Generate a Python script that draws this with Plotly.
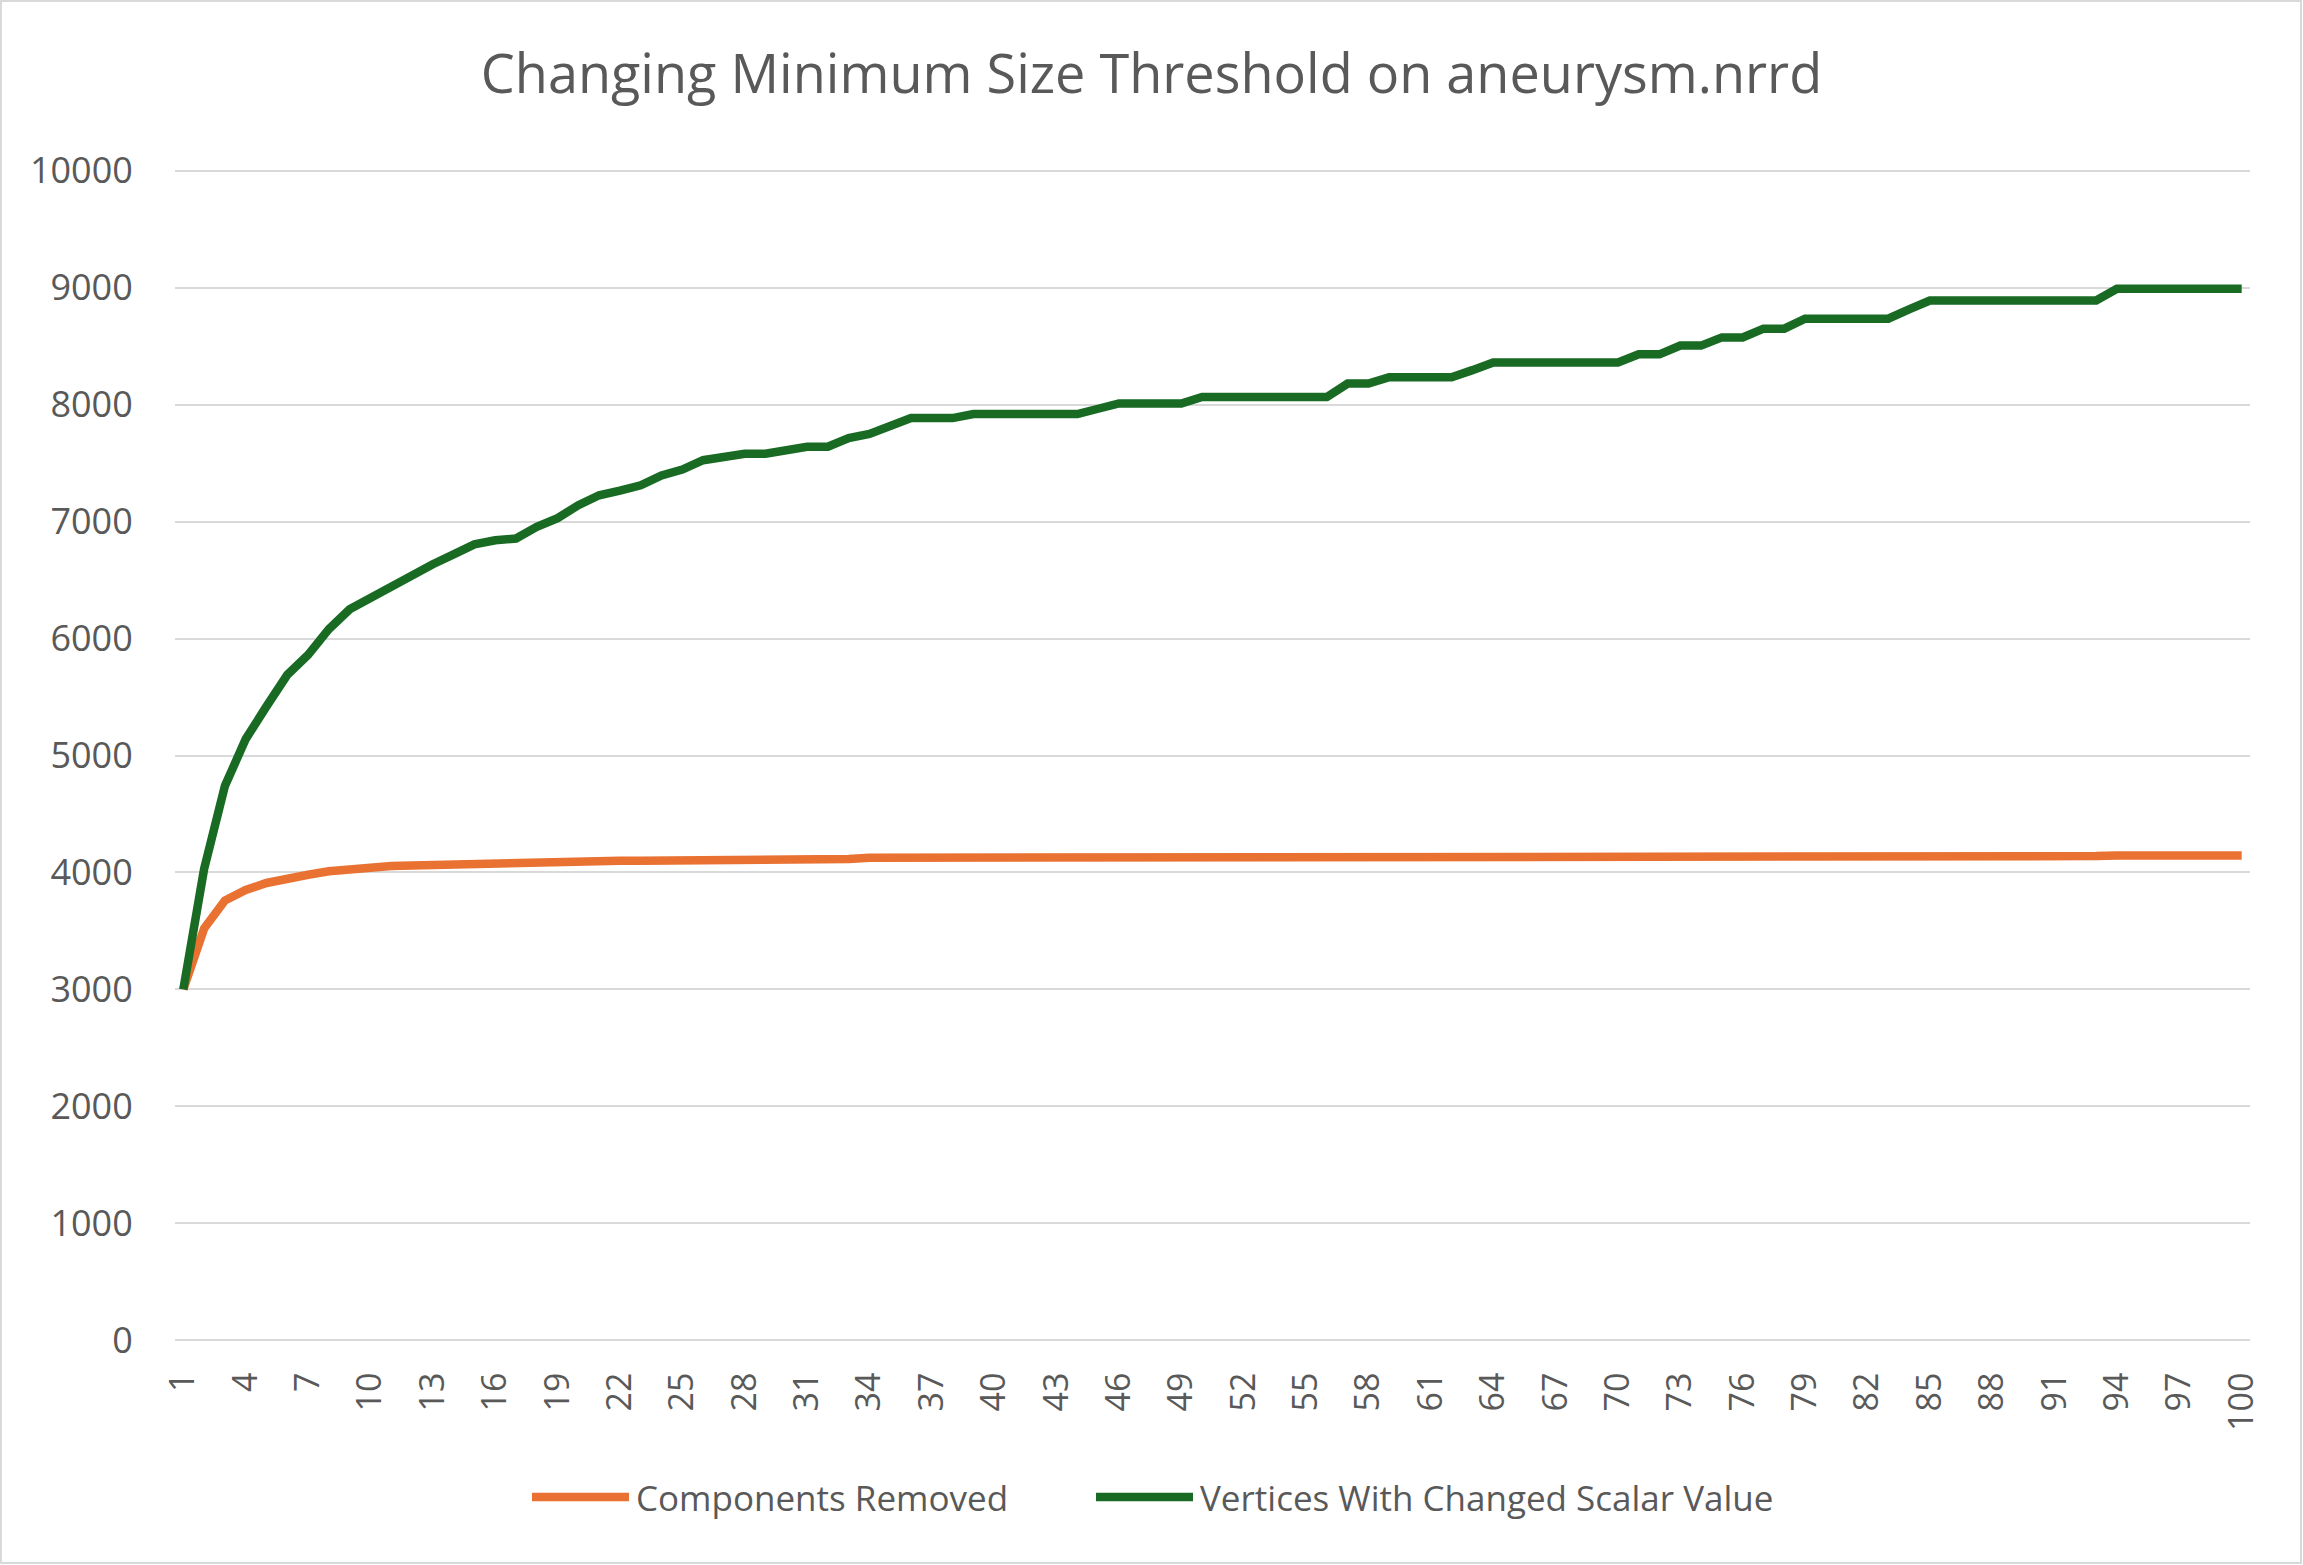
import plotly.graph_objects as go

# ---------------- data ----------------
thresholds = list(range(1, 101))

components_removed = [
    3000, 3520, 3760, 3850, 3910, 3950, 3980, 4010, 4030, 4045,
    4055, 4060, 4065, 4075, 4080, 4085, 4085, 4090, 4090, 4095,
    4095, 4100, 4100, 4100, 4100, 4115, 4115, 4115, 4115, 4115,
    4115, 4115, 4115, 4125, 4125, 4125, 4125, 4125, 4125, 4125,
    4125, 4125, 4125, 4125, 4125, 4125, 4125, 4125, 4125, 4125,
    4125, 4125, 4125, 4125, 4125, 4125, 4135, 4135, 4135, 4135,
    4135, 4135, 4135, 4135, 4135, 4135, 4135, 4135, 4135, 4135,
    4135, 4135, 4135, 4135, 4135, 4135, 4140, 4140, 4140, 4140,
    4140, 4140, 4140, 4140, 4140, 4140, 4140, 4140, 4140, 4140,
    4140, 4140, 4140, 4145, 4145, 4145, 4145, 4145, 4145, 4145,
]

vertices_changed = [
    3000, 4030, 4740, 5140, 5420, 5690, 5860, 6080, 6250, 6350,
    6440, 6530, 6635, 6720, 6805, 6840, 6855, 6955, 7030, 7140,
    7225, 7265, 7310, 7395, 7445, 7525, 7555, 7580, 7580, 7610,
    7640, 7640, 7715, 7750, 7820, 7885, 7885, 7885, 7920, 7920,
    7920, 7920, 7920, 7920, 7965, 8010, 8010, 8010, 8010, 8065,
    8065, 8065, 8065, 8065, 8065, 8065, 8180, 8180, 8235, 8235,
    8235, 8235, 8295, 8360, 8360, 8360, 8360, 8360, 8360, 8360,
    8430, 8430, 8505, 8505, 8575, 8575, 8650, 8650, 8735, 8735,
    8735, 8735, 8735, 8815, 8890, 8890, 8890, 8890, 8890, 8890,
    8890, 8890, 8890, 8990, 8990, 8990, 8990, 8990, 8990, 8990,
]

x_tick_values = [1, 4, 7, 10, 13, 16, 19, 22, 25, 28, 31, 34, 37, 40, 43, 46, 49,
                 52, 55, 58, 61, 64, 67, 70, 73, 76, 79, 82, 85, 88, 91, 94, 97, 100]
x_tick_labels = ["1", "4", "7", "10", "13", "16", "19", "22", "25", "28", "31", "34",
                 "37", "40", "43", "46", "49", "52", "55", "58", "61", "64", "67", "70",
                 "73", "76", "79", "82", "85", "88", "91", "94", "97", "100"]
y_tick_values = [0, 1000, 2000, 3000, 4000, 5000, 6000, 7000, 8000, 9000, 10000]
y_tick_labels = ["0", "1000", "2000", "3000", "4000", "5000", "6000", "7000",
                 "8000", "9000", "10000"]

series_names = ["Components Removed", "Vertices With Changed Scalar Value"]
series_colors = ["#E97132", "#196B24"]

# ---------------- layout geometry ----------------
W, H = 2303, 1565
ML, MR, MT, MB = 175, 53, 169, 223
PW, PH = W - ML - MR, H - MT - MB
FONT = "Open Sans"
TXT = "#595959"
GRID = "#D9D9D9"


def px_x(px):
    return (px - ML) / PW


def px_y(py):
    return (H - MB - py) / PH


fig = go.Figure()
for name, vals, col in zip(series_names, [components_removed, vertices_changed], series_colors):
    fig.add_trace(go.Scatter(
        x=thresholds, y=vals, mode="lines", name=name,
        line=dict(color=col, width=8.5), showlegend=False,
    ))

fig.update_layout(
    width=W, height=H,
    margin=dict(l=ML, r=MR, t=MT, b=MB),
    paper_bgcolor="white", plot_bgcolor="white",
    font=dict(family=FONT, color=TXT),
    title=dict(text="Changing Minimum Size Threshold on aneurysm.nrrd",
               x=0.5, xanchor="center", y=1 - 74 / H, yanchor="middle",
               font=dict(size=54, color=TXT, family=FONT)),
    xaxis=dict(range=[0.6, 100.4], tickmode="array", tickvals=x_tick_values,
               ticktext=x_tick_labels, tickangle=-90, showgrid=False,
               zeroline=False, showline=False, ticks="outside", ticklen=16,
               tickcolor="rgba(0,0,0,0)", tickfont=dict(size=34, color=TXT)),
    yaxis=dict(range=[-15, 10015], tickmode="array", tickvals=y_tick_values,
               ticktext=y_tick_labels,
               showgrid=True, gridcolor=GRID, gridwidth=2, zeroline=False,
               showline=False, ticks="outside", ticklen=34,
               tickcolor="rgba(0,0,0,0)", tickfont=dict(size=36, color=TXT)),
)

# chart-area border
fig.add_shape(type="rect", xref="paper", yref="paper",
              x0=px_x(1), x1=px_x(W - 2), y0=px_y(H - 2), y1=px_y(1),
              line=dict(color=GRID, width=2), fillcolor="rgba(0,0,0,0)", layer="below")

# legend (drawn manually to mimic long Excel swatches)
legend_y = 1497
legend_items = [(532, 629, 634), (1096, 1193, 1198)]
for (sx0, sx1, tx), name, col in zip(legend_items, series_names, series_colors):
    fig.add_shape(type="line", xref="paper", yref="paper",
                  x0=px_x(sx0), x1=px_x(sx1), y0=px_y(legend_y), y1=px_y(legend_y),
                  line=dict(color=col, width=8.5))
    fig.add_annotation(xref="paper", yref="paper", x=px_x(tx), y=px_y(legend_y),
                       xanchor="left", yanchor="middle", showarrow=False, text=name,
                       font=dict(size=35, color=TXT, family=FONT))

fig.write_html("out.html", config={"displayModeBar": False},
               post_script="document.body.style.margin='0px';")
